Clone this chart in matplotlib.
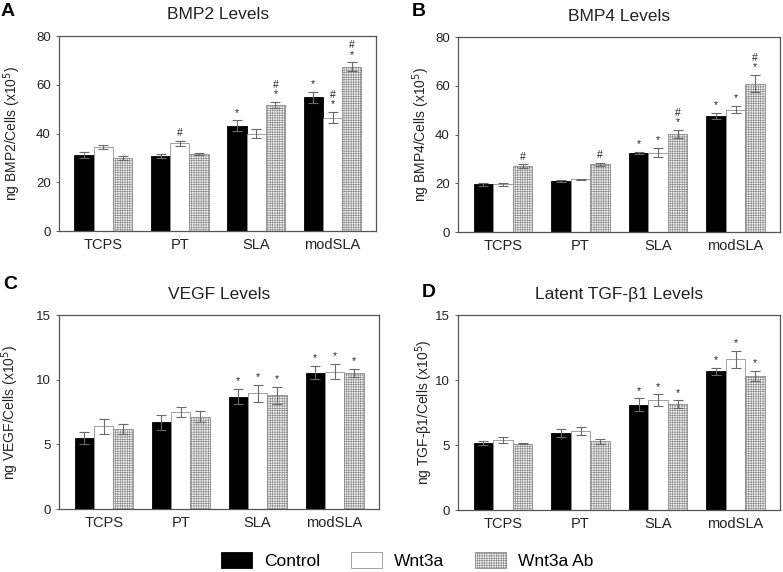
import matplotlib
matplotlib.use('Agg')
import matplotlib.pyplot as plt
import numpy as np
from matplotlib.patches import Patch

plt.rcParams['font.family'] = ['Liberation Sans', 'DejaVu Sans']
plt.rcParams['hatch.linewidth'] = 0.45

# Datos
grupos = ["TCPS", "PT", "SLA", "modSLA"]
series = ["Control", "Wnt3a", "Wnt3a Ab"]

bmp2_media = [[31.2, 30.8, 43.2, 54.8],
              [34.5, 36.0, 40.0, 46.5],
              [30.0, 31.6, 51.6, 67.4]]
bmp2_err = [[1.4, 0.8, 2.2, 2.3],
            [1.0, 1.0, 2.0, 2.2],
            [1.0, 0.5, 1.3, 1.8]]
bmp2_sig = [["", "", "*", "*"],
            ["", "#", "", "#\n*"],
            ["", "", "#\n*", "#\n*"]]

bmp4_media = [[19.6, 21.0, 32.4, 47.7],
              [19.7, 21.7, 32.7, 50.3],
              [27.1, 27.8, 40.3, 60.9]]
bmp4_err = [[0.7, 0.6, 0.4, 1.2],
            [0.6, 0.3, 2.0, 1.5],
            [0.7, 0.8, 1.5, 3.5]]
bmp4_sig = [["", "", "*", "*"],
            ["", "", "*", "*"],
            ["#", "#", "#\n*", "#\n*"]]

vegf_media = [[5.5, 6.7, 8.7, 10.55],
              [6.4, 7.5, 8.95, 10.63],
              [6.2, 7.15, 8.8, 10.55]]
vegf_err = [[0.45, 0.6, 0.6, 0.5],
            [0.6, 0.4, 0.65, 0.6],
            [0.4, 0.4, 0.65, 0.3]]
vegf_sig = [["", "", "*", "*"],
            ["", "", "*", "*"],
            ["", "", "*", "*"]]

tgf_media = [[5.18, 5.93, 8.1, 10.67],
             [5.4, 6.1, 8.45, 11.6],
             [5.13, 5.3, 8.14, 10.3]]
tgf_err = [[0.15, 0.3, 0.5, 0.3],
           [0.2, 0.3, 0.45, 0.63],
           [0.05, 0.2, 0.3, 0.4]]
tgf_sig = [["", "", "*", "*"],
           ["", "", "*", "*"],
           ["", "", "*", "*"]]

paneles = [
    ("A", "BMP2 Levels", r"ng BMP2/Cells (x10$^5$)", bmp2_media, bmp2_err, bmp2_sig, 80, [0, 20, 40, 60, 80]),
    ("B", "BMP4 Levels", r"ng BMP4/Cells (x10$^5$)", bmp4_media, bmp4_err, bmp4_sig, 80, [0, 20, 40, 60, 80]),
    ("C", "VEGF Levels", r"ng VEGF/Cells (x10$^5$)", vegf_media, vegf_err, vegf_sig, 15, [0, 5, 10, 15]),
    ("D", "Latent TGF-β1 Levels", r"ng TGF-β1/Cells (x10$^5$)", tgf_media, tgf_err, tgf_sig, 15, [0, 5, 10, 15]),
]

# Posiciones de ejes [left, bottom, width, height] en fraccion de figura
posiciones = [
    [0.0754, 0.596, 0.405, 0.341],
    [0.585, 0.594, 0.411, 0.341],
    [0.0754, 0.110, 0.408, 0.339],
    [0.585, 0.108, 0.411, 0.341],
]
letras_pos = [(0.001, 0.995), (0.526, 0.995), (0.004, 0.518), (0.539, 0.504)]
ylabel_x = [0.029, 0.552, 0.027, 0.555]

estilos = [
    dict(color="black", edgecolor="black"),
    dict(color="white", edgecolor="#909090"),
    dict(color="#f2f2f2", edgecolor="#8c8c8c", hatch="+++++++"),
]

fig = plt.figure(figsize=(7.83, 5.72), dpi=100)
x = np.arange(len(grupos))
w = 0.252

for i, (letra, titulo, ylab, media, err, sig, ymax, yticks) in enumerate(paneles):
    ax = fig.add_axes(posiciones[i])
    for s in range(3):
        xs = x + (s - 1) * w
        ax.bar(xs, media[s], width=w, linewidth=0.6, **estilos[s], zorder=2)
        ax.errorbar(xs, media[s], yerr=err[s], fmt='none', ecolor='#6a6a6a',
                    elinewidth=0.8, capsize=3.6, capthick=0.8, zorder=3)
        for j in range(len(grupos)):
            if sig[s][j]:
                ax.annotate(sig[s][j], (xs[j], media[s][j] + err[s][j]),
                            xytext=(0, 2), textcoords='offset points',
                            ha='center', va='bottom', fontsize=7.5,
                            linespacing=0.9, color='#222222')
    ax.set_xlim(-0.58, 3.57)
    ax.set_ylim(0, ymax)
    ax.set_yticks(yticks)
    ax.set_xticks(x)
    ax.set_xticklabels(grupos, fontsize=10.5, color='#222222')
    ax.tick_params(axis='x', length=0, pad=5)
    ax.tick_params(axis='y', length=2, width=0.6, labelsize=9.5, pad=4,
                   colors='#444444', labelcolor='#222222')
    for sp in ax.spines.values():
        sp.set_color('#555555')
        sp.set_linewidth(0.9)
    ax.set_title(titulo, fontsize=12.5, pad=12, color='#222222')
    ax.set_ylabel(ylab, fontsize=10, color='#222222')
    pos = posiciones[i]
    ax.yaxis.set_label_coords(ylabel_x[i], pos[1] + pos[3] / 2, transform=fig.transFigure)
    fig.text(letras_pos[i][0], letras_pos[i][1], letra, fontsize=14,
             fontweight='bold', ha='left', va='top')

handles = [Patch(facecolor=estilos[s]["color"], edgecolor=estilos[s]["edgecolor"],
                 hatch=estilos[s].get("hatch"), linewidth=0.6, label=series[s])
           for s in range(3)]
fig.legend(handles=handles, loc='center', bbox_to_anchor=(0.52, 0.020), ncol=3,
           frameon=False, fontsize=12.5, handlelength=1.8, handleheight=1.05,
           columnspacing=1.8, handletextpad=0.65, borderpad=0.1)

fig.savefig("out.png", dpi=100)
